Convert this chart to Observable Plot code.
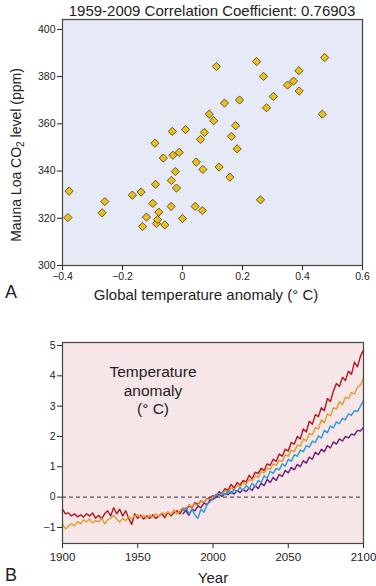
<!DOCTYPE html>
<html>
<head>
<meta charset="utf-8">
<script src="https://cdn.jsdelivr.net/npm/d3@7"></script>
<script src="https://cdn.jsdelivr.net/npm/@observablehq/plot@0.6"></script>
<style>
  body { margin: 0; background: #fff; }
  #wrap { position: relative; width: 376px; height: 586px; font-family: "Liberation Sans", Arial, sans-serif; color: #222; overflow: hidden; }
  .abs { position: absolute; white-space: nowrap; }
  #pa, #pb { position: absolute; left: 0; }
  #pa { top: 0; }
  #pb { top: 320px; }
</style>
</head>
<body>
<div id="wrap">
  <div id="pa"></div>
  <div id="pb"></div>
  <div class="abs" style="left:212px;top:10px;transform:translate(-50%,-50%);font-size:15px;">1959-2009 Correlation Coefficient: 0.76903</div>
  <div class="abs" style="left:17px;top:155px;transform:translate(-50%,-50%) rotate(-90deg);font-size:14px;">Mauna Loa CO<sub style="font-size:10px;vertical-align:-3px;">2</sub> level (ppm)</div>
  <div class="abs" style="left:206px;top:294px;transform:translate(-50%,-50%);font-size:15px;">Global temperature anomaly (° C)</div>
  <div class="abs" style="left:11px;top:292px;transform:translate(-50%,-50%);font-size:18px;">A</div>
  <div class="abs" style="left:153px;top:391px;transform:translate(-50%,-50%);font-size:15.5px;line-height:18.5px;text-align:center;">Temperature<br>anomaly<br>(° C)</div>
  <div class="abs" style="left:213px;top:577px;transform:translate(-50%,-50%);font-size:15px;">Year</div>
  <div class="abs" style="left:11px;top:575px;transform:translate(-50%,-50%);font-size:18px;">B</div>
</div>
<script>
// ---- Panel A data: global temperature anomaly (°C) vs Mauna Loa CO2 (ppm), 1959-2009
const tempAnomaly = [-0.382,-0.378,-0.268,-0.259,-0.167,-0.138,-0.133,-0.120,-0.099,-0.090,-0.087,-0.083,-0.079,-0.092,-0.064,-0.059,-0.038,-0.037,-0.034,-0.032,-0.024,-0.020,-0.011,0.000,0.010,0.042,0.046,0.060,0.066,0.068,0.073,0.089,0.104,0.113,0.122,0.140,0.158,0.163,0.177,0.182,0.190,0.247,0.260,0.270,0.280,0.303,0.350,0.370,0.388,0.389,0.466,0.474];
const co2Level = [320.3,331.5,322.3,327.1,329.8,331.1,316.5,320.5,326.3,334.4,317.8,319.4,322.6,351.8,345.5,317.2,325.0,336.0,356.8,346.7,339.8,332.8,347.9,319.9,357.6,325.0,343.8,353.4,323.3,340.7,356.4,364.1,361.3,384.3,341.7,368.8,337.4,354.7,359.2,349.4,370.1,386.4,327.8,380.1,366.8,371.6,376.4,378.1,382.5,373.9,364.1,388.1];
const aXTicks = [-0.4,-0.2,0,0.2,0.4,0.6];
const aYTicks = [300,320,340,360,380,400];

// ---- Panel B data: temperature anomaly series (every 2 years)
const longYears = d3.range(1900, 2101, 2);
const shortYears = d3.range(1980, 2101, 2);
const redSeries = [-0.40,-0.55,-0.52,-0.62,-0.55,-0.65,-0.58,-0.66,-0.55,-0.62,-0.52,-0.70,-0.60,-0.72,-0.55,-0.45,-0.62,-0.35,-0.55,-0.40,-0.62,-0.45,-0.70,-0.90,-0.55,-0.70,-0.60,-0.72,-0.62,-0.70,-0.58,-0.70,-0.62,-0.55,-0.68,-0.50,-0.62,-0.52,-0.45,-0.55,-0.38,-0.45,-0.28,-0.35,-0.18,-0.25,-0.12,-0.18,-0.05,-0.02,0.05,0.00,0.18,0.12,0.28,0.22,0.42,0.30,0.48,0.40,0.55,0.50,0.72,0.60,0.82,0.78,0.95,0.88,1.10,1.05,1.25,1.18,1.42,1.35,1.58,1.52,1.80,1.75,2.00,1.92,2.25,2.15,2.50,2.40,2.72,2.65,2.95,2.85,3.25,3.15,3.50,3.75,3.65,3.95,3.85,4.15,4.05,4.45,4.30,4.65,4.85];
const orangeSeries = [-0.90,-1.05,-0.95,-0.88,-0.95,-0.80,-0.88,-0.75,-0.82,-0.72,-0.85,-0.78,-0.82,-0.70,-0.88,-0.75,-0.70,-0.60,-0.72,-0.82,-0.70,-0.78,-0.65,-0.72,-0.62,-0.58,-0.66,-0.60,-0.70,-0.58,-0.66,-0.55,-0.64,-0.52,-0.58,-0.48,-0.58,-0.42,-0.55,-0.45,-0.35,-0.40,-0.25,-0.32,-0.22,-0.28,-0.12,-0.18,-0.05,-0.10,0.02,0.00,0.12,0.08,0.22,0.15,0.30,0.25,0.38,0.32,0.48,0.42,0.58,0.55,0.70,0.65,0.85,0.80,0.95,0.92,1.10,1.05,1.22,1.18,1.40,1.35,1.55,1.50,1.72,1.68,1.92,1.85,2.10,2.05,2.30,2.25,2.55,2.45,2.75,2.68,2.95,2.90,3.15,3.05,3.30,3.25,3.45,3.40,3.62,3.70,3.92];
const blueSeries = [-0.45,-0.35,-0.55,-0.40,-0.60,-0.70,-0.40,-0.50,-0.25,-0.15,-0.05,0.10,0.05,0.15,0.08,0.20,0.12,0.25,0.18,0.32,0.22,0.38,0.28,0.45,0.35,0.55,0.48,0.70,0.62,0.85,0.78,0.95,0.90,1.10,1.02,1.25,1.18,1.40,1.35,1.55,1.50,1.70,1.65,1.85,1.80,2.02,1.95,2.20,2.12,2.35,2.28,2.48,2.42,2.60,2.55,2.75,2.70,2.85,2.82,3.00,3.18];
const purpleSeries = [-0.55,-0.45,-0.60,-0.40,-0.45,-0.30,-0.35,-0.20,-0.25,-0.10,-0.08,0.00,0.08,0.02,0.12,0.08,0.18,0.10,0.22,0.15,0.25,0.18,0.30,0.22,0.38,0.28,0.45,0.38,0.58,0.48,0.65,0.55,0.75,0.68,0.88,0.80,0.98,0.90,1.08,1.00,1.20,1.12,1.32,1.25,1.48,1.40,1.58,1.50,1.70,1.62,1.82,1.75,1.92,1.85,2.00,1.95,2.08,2.05,2.20,2.18,2.30];
const bXTicks = [1900,1950,2000,2050,2100];
const bYTicks = [-1,0,1,2,3,4,5];

// ---- build tables
const scatter = tempAnomaly.map((t, i) => ({t, c: co2Level[i]}));
const mk = (years, vals) => years.map((y, i) => ({year: y, v: vals[i]}));
const red = mk(longYears, redSeries);
const orange = mk(longYears, orangeSeries);
const blue = mk(shortYears, blueSeries);
const purple = mk(shortYears, purpleSeries);

const fmtA = d => d === 0 ? "0" : d3.format(".1f")(d);

const plotA = Plot.plot({
  width: 376, height: 305,
  marginLeft: 62, marginRight: 14, marginTop: 19, marginBottom: 40,
  style: {fontFamily: "Liberation Sans, Arial, sans-serif", fontSize: "10.5px", color: "#222", background: "transparent"},
  x: {domain: [-0.4, 0.6], ticks: aXTicks, tickFormat: fmtA, label: null, tickSize: 5, tickPadding: 2},
  y: {domain: [300, 404.2], ticks: aYTicks, label: null, tickSize: 5, tickPadding: 2},
  marks: [
    Plot.frame({fill: "#e6e9f6"}),
    Plot.dot(scatter, {x: "t", y: "c", symbol: "diamond2", r: 3.7, fill: "#e8c020", stroke: "#5b4a0e", strokeWidth: 0.9}),
    Plot.frame({stroke: "#444", strokeWidth: 1.2})
  ]
});
document.getElementById("pa").appendChild(plotA);

const plotB = Plot.plot({
  width: 376, height: 250,
  marginLeft: 62, marginRight: 13, marginTop: 22, marginBottom: 27,
  style: {fontFamily: "Liberation Sans, Arial, sans-serif", fontSize: "10.5px", color: "#222", background: "transparent"},
  x: {domain: [1900, 2100], ticks: bXTicks, tickFormat: d3.format("d"), label: null, tickSize: 5, tickPadding: 4},
  y: {domain: [-1.53, 5.1], ticks: bYTicks, tickFormat: d3.format("d"), label: null, tickSize: 5, tickPadding: 2},
  marks: [
    Plot.frame({fill: "#f6e6e7"}),
    Plot.ruleY([0], {stroke: "#333", strokeDasharray: "4,3", strokeWidth: 1}),
    Plot.line(red, {x: "year", y: "v", stroke: "#b3141d", strokeWidth: 1.4}),
    Plot.line(orange, {x: "year", y: "v", stroke: "#e09a2e", strokeWidth: 1.4}),
    Plot.line(purple, {x: "year", y: "v", stroke: "#6b1c7c", strokeWidth: 1.4}),
    Plot.line(blue, {x: "year", y: "v", stroke: "#2a9ad8", strokeWidth: 1.4}),
    Plot.frame({stroke: "#444", strokeWidth: 1.2})
  ]
});
document.getElementById("pb").appendChild(plotB);
d3.select(plotB).selectAll("g[aria-label='x-axis tick label'] text").style("font-size", "11.5px");
</script>
</body>
</html>
